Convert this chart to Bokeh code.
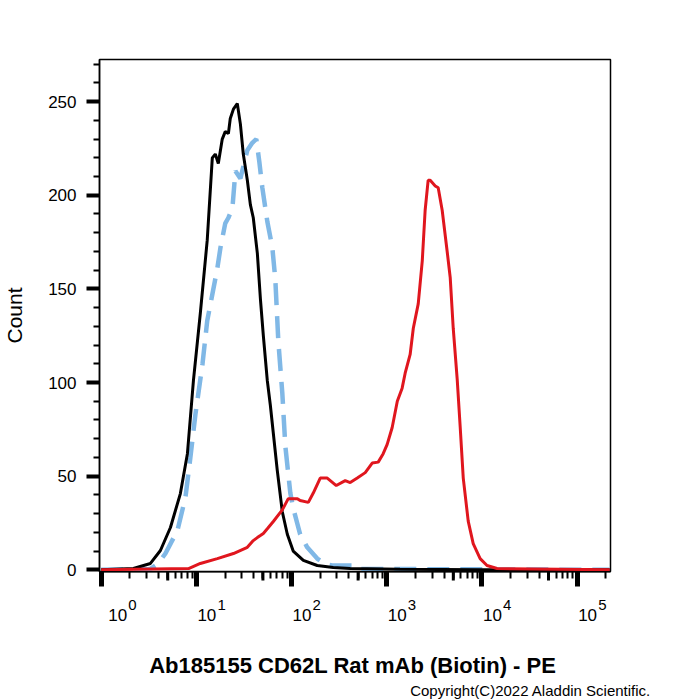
import math
from bokeh.plotting import figure
from bokeh.layouts import column
from bokeh.models import (Range1d, FixedTicker, SingleIntervalTicker, CustomJSTickFormatter)
from bokeh.core.properties import value
from bokeh.embed import file_html
from bokeh.resources import INLINE

# ---- data ----
black_x = [1.0, 2.18, 3.29, 4.19, 5.34, 6.79, 8.05, 9.31, 11.0, 13.0, 14.7, 15.8, 17.0,
           18.7, 20.1, 21.7, 22.7, 24.5, 26.9, 29.0, 31.1, 34.3, 36.9, 39.6, 43.7, 47.0,
           50.5, 55.6, 59.8, 70.8, 79.9, 90.2, 104, 133, 186, 274, 413, 1380, 10000, 220000]
black_y = [0, 0.7, 3.4, 10.3, 22.6, 40.7, 62, 101, 137, 176, 220, 222, 217,
           230, 234, 233, 241, 246, 249, 238, 222, 208, 195, 188, 169, 145,
           125, 101, 88, 53, 31, 19, 10, 5, 2.3, 1.2, 0.7, 0.3, 0, 0]

blue_x = [1.0, 3.29, 3.72, 4.19, 4.73, 6.32, 7.67, 8.65, 9.77, 11.6, 13.0, 14.7, 16.6,
          17.9, 20.1, 21.7, 23.9, 25.7, 29.0, 34.3, 38.7, 42.6, 45.8, 49.3, 55.6, 62.8,
          67.5, 72.6, 80.0, 86.0, 97.0, 104, 123, 146, 186, 226, 267, 444, 490, 220000]
blue_y = [0, 0.5, 2.3, 5, 8.7, 21, 38.6, 60, 83, 110, 133, 147, 161,
          172, 185, 188, 193, 213, 209, 224, 228, 230, 218, 204, 186, 172,
          155, 122, 94, 66, 41, 33, 19, 12, 6, 3, 2.3, 2.3, 0.5, 0]

red_x = [1.0, 8.28, 11.0, 16.6, 24.5, 34.3, 39.6, 43.7, 47.0, 50.5, 55.6, 64.3, 79.9,
         92.3, 115, 123, 150, 169, 200, 237, 295, 366, 413, 490, 594, 703, 813, 917,
         1010, 1140, 1290, 1450, 1560, 1760, 1900, 2140, 2360, 2530, 2720, 2860, 3230,
         3470, 3820, 4310, 4640, 4990, 5490, 5910, 6360, 7170, 8090, 9570, 11300,
         14400, 220000]
red_y = [0, 0.7, 3.4, 6, 8.7, 12, 15.6, 17.2, 18.3, 19.4, 21.9, 25.8, 32,
         38, 38, 37, 36, 41, 49, 49, 45, 47.6, 46.6, 49, 51.9, 57, 57.5, 62,
         67, 76, 90, 97, 105, 115, 129, 142, 165, 192, 208, 208, 205,
         204, 192, 170, 156, 129, 102, 76, 49, 26, 14, 6, 2.3,
         0.7, 0]

decades = [0, 1, 2, 3, 4, 5]
x_title = "Ab185155 CD62L Rat mAb (Biotin) - PE"
y_title = "Count"
copyright_text = "Copyright(C)2022 Aladdin Scientific."

FONT = "Liberation Sans"
X0, X1 = 0.96, 2.24e5
LEFT, RIGHT, TOP = 99, 90, 59
W = 700
FRAME_BOTTOM = 571
EXTRA = 19  # room below the frame so the "0" tick label is not cut

# ---------------- main plot ----------------
p = figure(width=W, height=FRAME_BOTTOM + EXTRA, x_axis_type="log", x_axis_location=None,
           x_range=Range1d(X0, X1), y_range=Range1d(-0.9, 272.5),
           output_backend="svg", toolbar_location=None,
           min_border_left=LEFT, min_border_right=RIGHT, min_border_top=TOP,
           min_border_bottom=EXTRA)
p.xgrid.visible = False
p.ygrid.visible = False
p.outline_line_color = "black"
p.outline_line_width = 1.5
if hasattr(p, "frame_align"):
    p.frame_align = False

p.line(blue_x, blue_y, line_color="#80b8e6", line_width=4.5, line_dash="22 11")
p.line(black_x, black_y, line_color="black", line_width=3)
p.line(red_x, red_y, line_color="#e0161e", line_width=3)

ya = p.yaxis[0]
ya.ticker = SingleIntervalTicker(interval=50, num_minor_ticks=5)
ya.major_tick_out = 13
ya.major_tick_in = 0
ya.major_tick_line_width = 4
ya.minor_tick_out = 6
ya.minor_tick_in = 0
ya.minor_tick_line_width = 2
ya.axis_line_width = 1.5
ya.major_label_text_font = FONT
ya.major_label_text_font_size = "17px"
ya.major_label_text_color = "black"
ya.major_label_standoff = 10
ya.axis_label = y_title
ya.axis_label_text_font = FONT
ya.axis_label_text_font_size = "21px"
ya.axis_label_text_font_style = "normal"
ya.axis_label_text_color = "black"
ya.axis_label_standoff = 19

# ---------------- bottom strip: x axis ticks + labels ----------------
per_px = (math.log10(X1) - math.log10(X0)) / (W - LEFT - RIGHT)
b_start = 10 ** (math.log10(X0) - LEFT * per_px)
b_end = 10 ** (math.log10(X1) + RIGHT * per_px)

q = figure(width=W, height=700 - FRAME_BOTTOM, x_axis_type="log", x_axis_location="above",
           y_axis_location=None, x_range=Range1d(b_start, b_end),
           y_range=Range1d(700, FRAME_BOTTOM + 1),
           output_backend="svg", toolbar_location=None,
           min_border_left=0, min_border_right=0, min_border_top=0, min_border_bottom=0)
q.margin = (-EXTRA, 0, 0, 0)
q.xgrid.visible = False
q.ygrid.visible = False
q.outline_line_color = None
q.background_fill_color = None
q.border_fill_color = None
if hasattr(q, "frame_align"):
    q.frame_align = False

xa = q.xaxis[0]
minor = [m * 10 ** k for k in decades for m in range(2, 10) if m * 10 ** k <= X1]
xa.ticker = FixedTicker(ticks=[10 ** k for k in decades], minor_ticks=minor)
xa.bounds = (X0, X1)
xa.formatter = CustomJSTickFormatter(code="return ''")
xa.major_label_text_font_size = "1px"
xa.major_label_standoff = 0
xa.major_tick_in = 15
xa.major_tick_out = 0
xa.major_tick_line_width = 5
xa.minor_tick_in = 7
xa.minor_tick_out = 0
xa.minor_tick_line_width = 2
xa.axis_line_width = 2

# medium ticks at 5 x 10^k
mids = [5 * 10 ** k for k in decades[:-1]]
q.segment(x0=mids, y0=[FRAME_BOTTOM] * len(mids), x1=mids,
          y1=[FRAME_BOTTOM + 10] * len(mids), line_color="black", line_width=3)

# decade labels 10^k
tick_vals = [10 ** k for k in decades]
offs = [7 if k == 0 else 1 for k in decades]
for t, o, k in zip(tick_vals, offs, decades):
    q.text(x=[t], y=[615], text=["10"], x_offset=o, text_align="left",
           text_baseline="alphabetic", text_font=value(FONT), text_font_size="17px",
           text_color="black")
    q.text(x=[t], y=[605], text=[str(k)], x_offset=o + 20, text_align="left",
           text_baseline="alphabetic", text_font=value(FONT), text_font_size="15px",
           text_color="black")

q.text(x=[439], y=[665], text=[x_title], text_align="center", text_baseline="alphabetic",
       text_font=value(FONT), text_font_size="22px", text_font_style="bold",
       text_color="black")
q.text(x=[1760], y=[690], text=[copyright_text], text_align="left",
       text_baseline="alphabetic", text_font=value(FONT), text_font_size="15px",
       text_color="black")

layout = column(p, q, spacing=0)
open("out.html", "w").write(file_html(layout, INLINE))
